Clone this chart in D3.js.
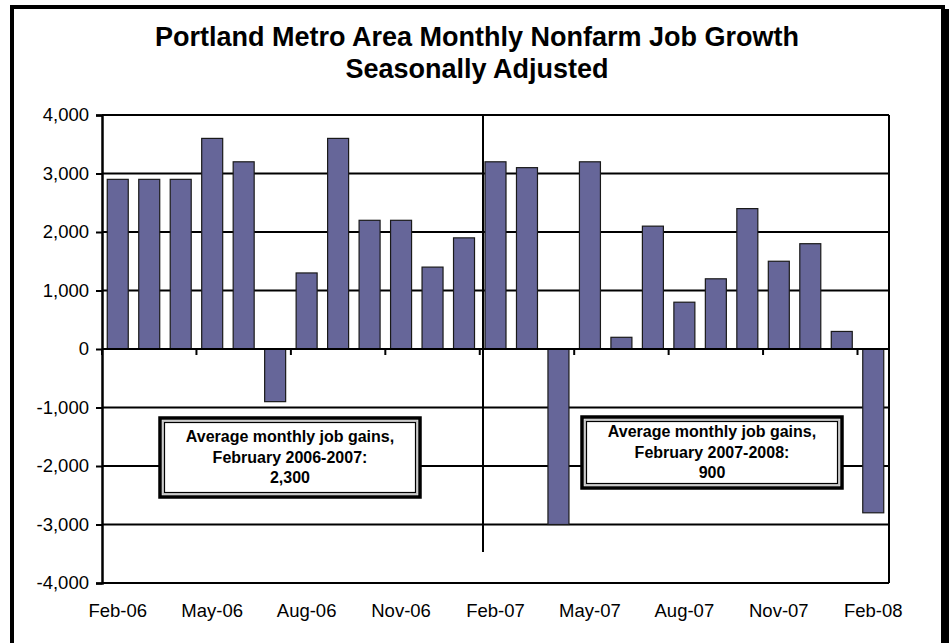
<!DOCTYPE html>
<html>
<head>
<meta charset="utf-8">
<script src="https://cdn.jsdelivr.net/npm/d3@7"></script>
<style>
  html, body { margin: 0; padding: 0; background: #fff; }
  svg { display: block; font-family: Arial, "Liberation Sans", sans-serif; }
</style>
</head>
<body>
<svg id="chart" width="951" height="643"></svg>
<script>
// ---- Data ----
const months = ["Feb-06","Mar-06","Apr-06","May-06","Jun-06","Jul-06","Aug-06","Sep-06","Oct-06","Nov-06","Dec-06","Jan-07",
                "Feb-07","Mar-07","Apr-07","May-07","Jun-07","Jul-07","Aug-07","Sep-07","Oct-07","Nov-07","Dec-07","Jan-08","Feb-08"];
const jobGrowth = [2900, 2900, 2900, 3600, 3200, -900, 1300, 3600, 2200, 2200, 1400, 1900,
                   3200, 3100, -3000, 3200, 200, 2100, 800, 1200, 2400, 1500, 1800, 300, -2800];
const yTicks = [-4000, -3000, -2000, -1000, 0, 1000, 2000, 3000, 4000];
const xTickLabels = ["Feb-06","May-06","Aug-06","Nov-06","Feb-07","May-07","Aug-07","Nov-07","Feb-08"];
const titleLines = ["Portland Metro Area Monthly Nonfarm Job Growth", "Seasonally Adjusted"];
const note1 = ["Average monthly job gains,", "February 2006-2007:", "2,300"];
const note2 = ["Average monthly job gains,", "February 2007-2008:", "900"];
const dividerMonth = "Feb-07";

// ---- Layout ----
const svg = d3.select("#chart");
const plot = { left: 102, right: 889, top: 115, bottom: 583 };

const x = d3.scaleBand().domain(months).range([plot.left, plot.right])
  .paddingInner(0.333).paddingOuter(0.167);
const y = d3.scaleLinear().domain([-4000, 4000]).range([plot.bottom, plot.top]);
const fmt = d => d3.format(",")(d).replace("\u2212", "-");

// Outer frame
svg.append("rect").attr("x", 12).attr("y", 7).attr("width", 931).attr("height", 700)
  .attr("fill", "none").attr("stroke", "#000").attr("stroke-width", 4);
svg.append("rect").attr("x", 941).attr("y", 9).attr("width", 8).attr("height", 640).attr("fill", "#000");

// Title
svg.append("g").selectAll("text").data(titleLines).join("text")
  .attr("x", 477).attr("y", (d, i) => 46 + i * 32)
  .attr("text-anchor", "middle").attr("font-weight", "bold").attr("font-size", 27)
  .text(d => d);

// Gridlines
svg.append("g").selectAll("line").data(yTicks).join("line")
  .attr("x1", plot.left).attr("x2", plot.right)
  .attr("y1", d => y(d)).attr("y2", d => y(d))
  .attr("stroke", "#000").attr("stroke-width", 2);

// Right border of plot
svg.append("line").attr("x1", plot.right).attr("x2", plot.right)
  .attr("y1", plot.top).attr("y2", plot.bottom).attr("stroke", "#000").attr("stroke-width", 2);

// Y axis
const yAxis = svg.append("g").attr("transform", `translate(${plot.left},0)`)
  .call(d3.axisLeft(y).tickValues(yTicks).tickFormat(fmt).tickSize(6).tickPadding(7));
yAxis.select(".domain").attr("stroke-width", 2.5);
yAxis.selectAll(".tick line").attr("stroke-width", 2);
yAxis.selectAll("text").attr("font-size", 18.5).attr("font-family", "Arial, 'Liberation Sans', sans-serif").attr("fill", "#000");

// Bars
svg.append("g").selectAll("rect").data(months).join("rect")
  .attr("x", d => x(d))
  .attr("width", x.bandwidth())
  .attr("y", (d, i) => y(Math.max(0, jobGrowth[i])))
  .attr("height", (d, i) => Math.abs(y(jobGrowth[i]) - y(0)))
  .attr("fill", "#666699").attr("stroke", "#1a1a1a").attr("stroke-width", 1.2);

// Zero line on top of bars
svg.append("line").attr("x1", plot.left).attr("x2", plot.right)
  .attr("y1", y(0)).attr("y2", y(0)).attr("stroke", "#000").attr("stroke-width", 2);

// X tick marks on zero line (every 3 months, at band boundaries)
const step = x.step();
const tickXs = xTickLabels.map(m => x(m) - (step - x.bandwidth()) / 2);
svg.append("g").selectAll("line").data(tickXs).join("line")
  .attr("x1", d => d).attr("x2", d => d)
  .attr("y1", y(0)).attr("y2", y(0) + 6)
  .attr("stroke", "#000").attr("stroke-width", 2);

// X labels
svg.append("g").selectAll("text").data(xTickLabels).join("text")
  .attr("x", d => x(d) + x.bandwidth() / 2).attr("y", 617)
  .attr("text-anchor", "middle").attr("font-size", 18.5)
  .text(d => d);

// Divider line
const divX = x(dividerMonth) - 2;
svg.append("line").attr("x1", divX).attr("x2", divX)
  .attr("y1", plot.top).attr("y2", 552).attr("stroke", "#000").attr("stroke-width", 2);

// Notes
function note(lines, bx, by, bw, bh, ty) {
  const g = svg.append("g");
  g.append("rect").attr("x", bx).attr("y", by).attr("width", bw).attr("height", bh)
    .attr("fill", "#fff").attr("stroke", "#000").attr("stroke-width", 3.5);
  g.append("rect").attr("x", bx + 3).attr("y", by + 3).attr("width", bw - 6).attr("height", bh - 6)
    .attr("fill", "none").attr("stroke", "#bbb").attr("stroke-width", 1.5);
  g.append("rect").attr("x", bx + 4.5).attr("y", by + 4.5).attr("width", bw - 9).attr("height", bh - 9)
    .attr("fill", "#fff").attr("stroke", "#000").attr("stroke-width", 1.2);
  g.selectAll("text").data(lines).join("text")
    .attr("x", bx + bw / 2).attr("y", (d, i) => ty + i * 20.5)
    .attr("text-anchor", "middle").attr("font-weight", "bold").attr("font-size", 16)
    .text(d => d);
}
note(note1, 160, 418, 260, 79, 442);
note(note2, 582, 417, 260, 71, 437);
</script>
</body>
</html>
